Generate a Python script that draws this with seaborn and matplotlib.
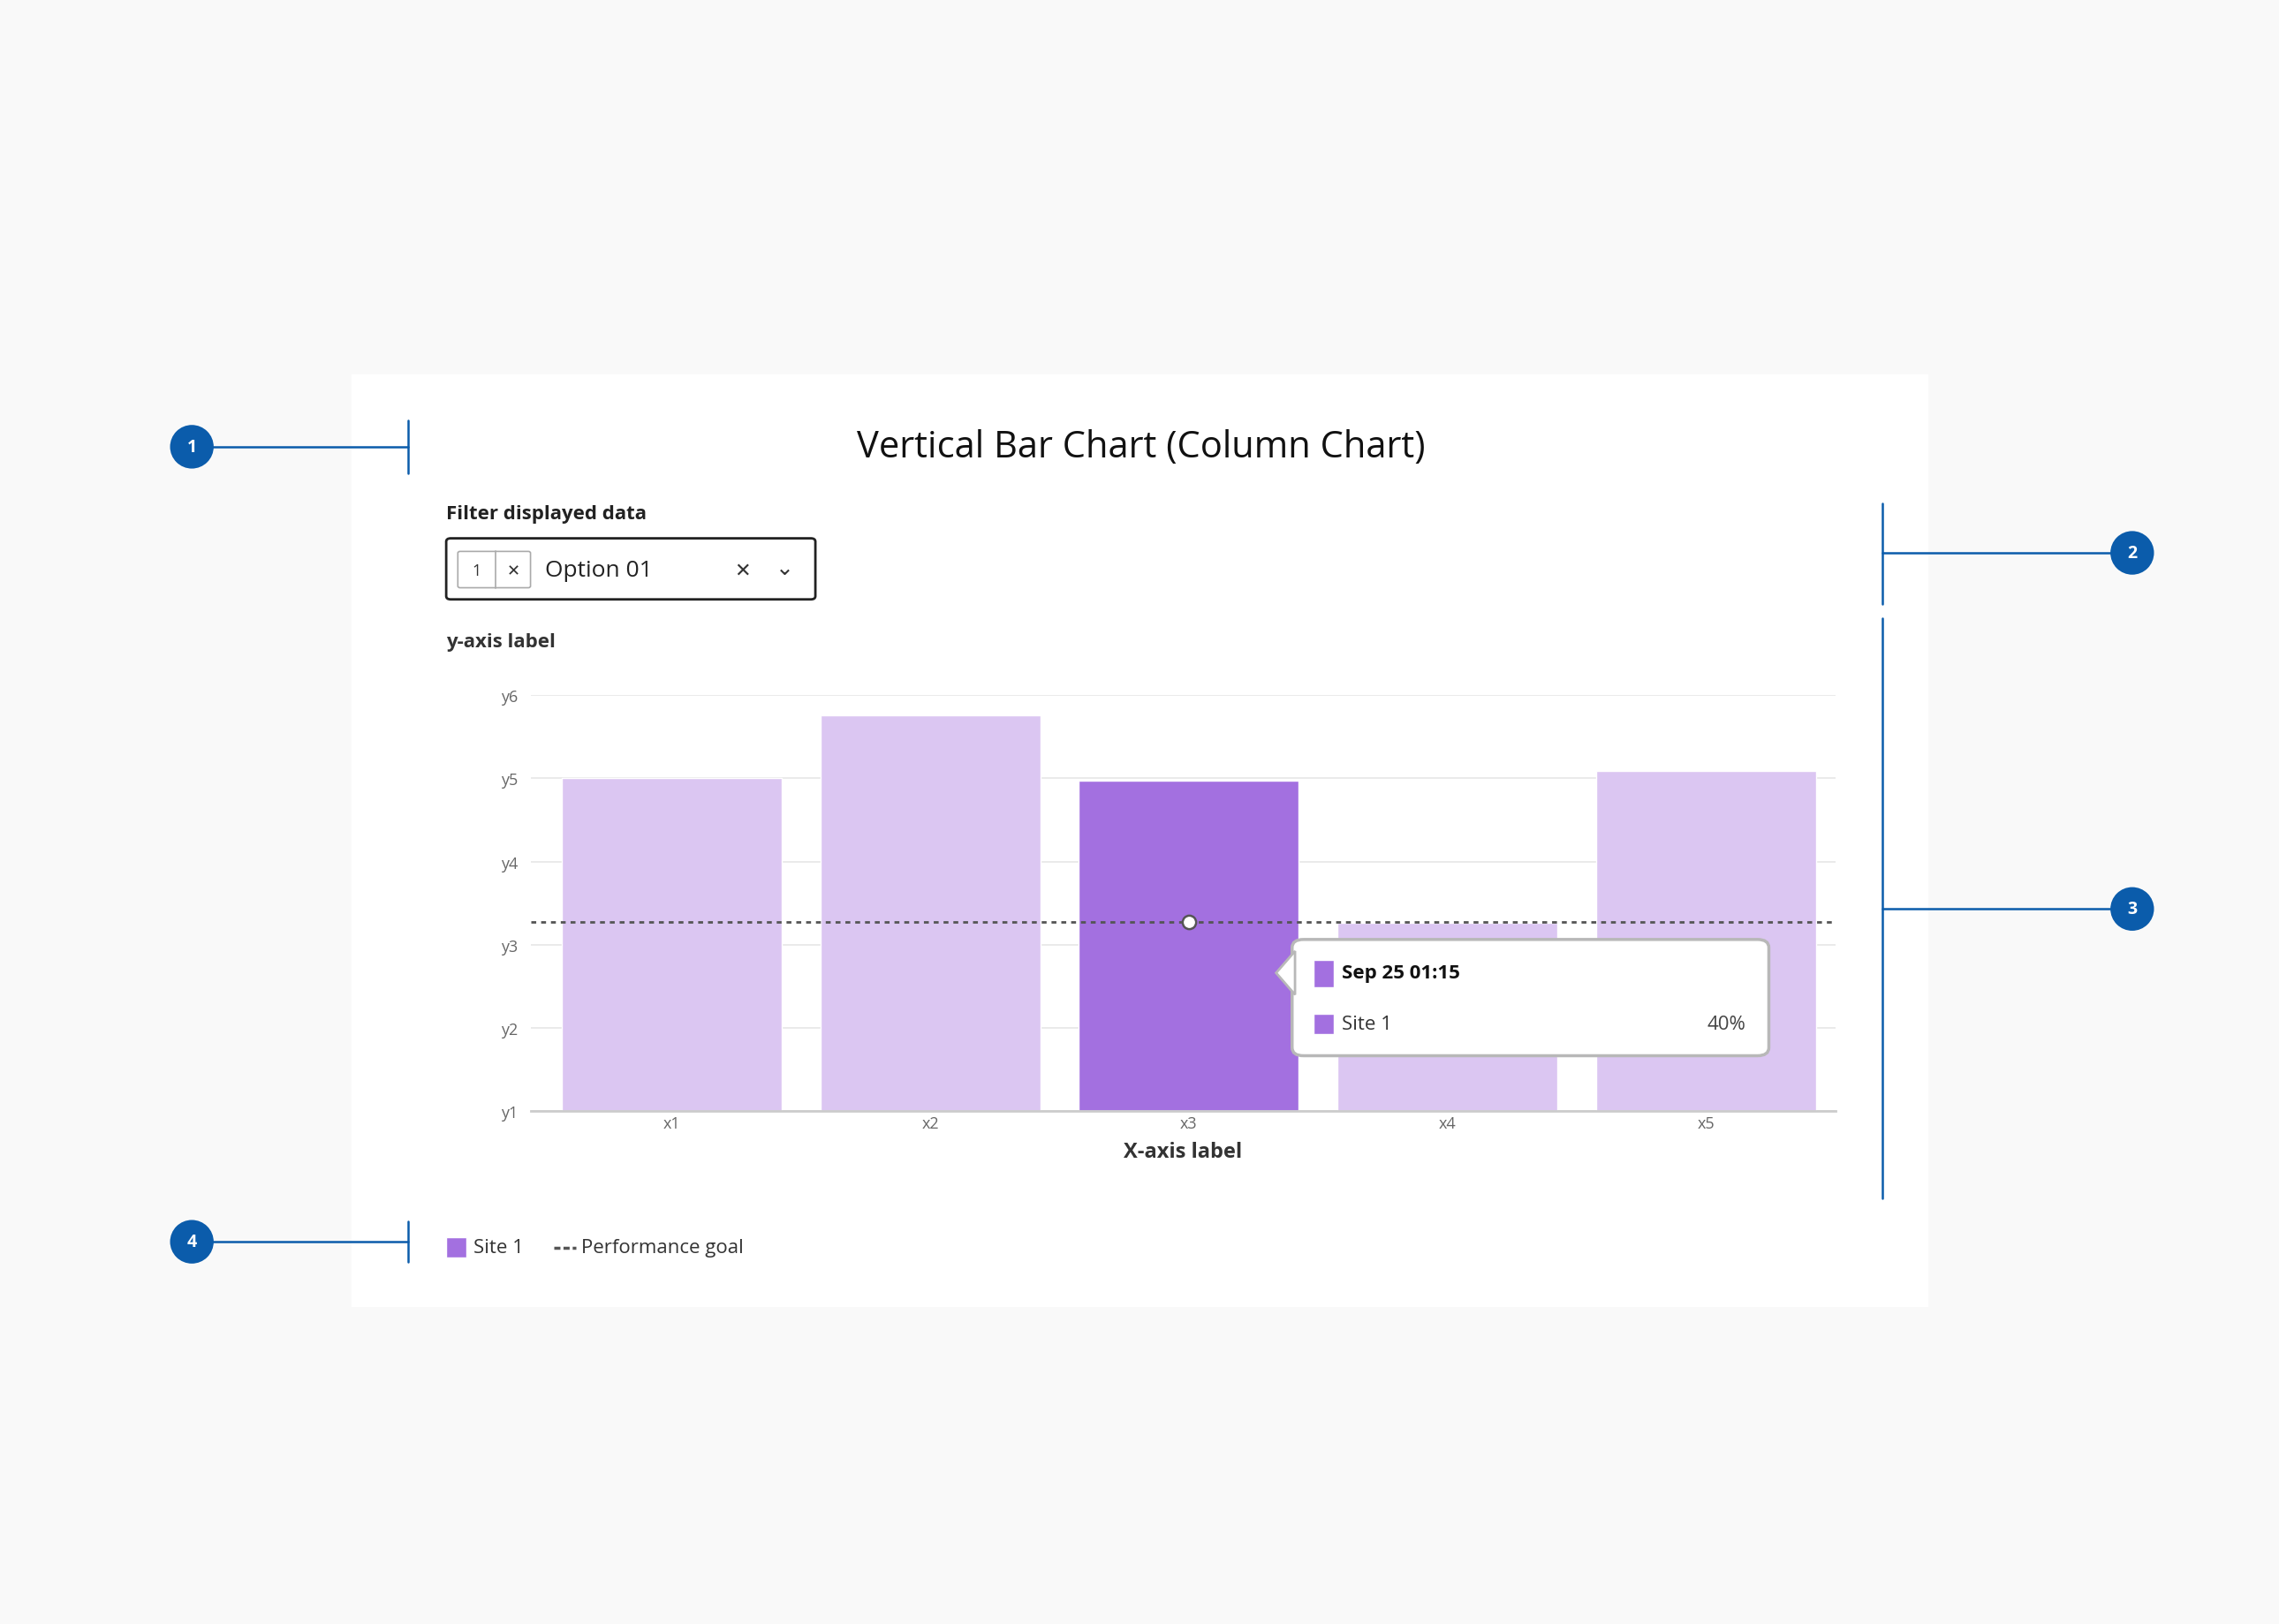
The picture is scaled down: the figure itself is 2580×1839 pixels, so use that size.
import matplotlib
matplotlib.use("Agg")
import matplotlib.pyplot as plt
import seaborn as sns
import pandas as pd
from matplotlib.patches import FancyBboxPatch, Rectangle, Ellipse, Polygon

sns.set_theme(style="white")
plt.rcParams['font.family'] = ['Open Sans', 'DejaVu Sans']

categories = ["x1", "x2", "x3", "x4", "x5"]
values = [4.0, 4.76, 3.97, 2.26, 4.09]
goal = 2.27
ytick_labels = ["y1", "y2", "y3", "y4", "y5", "y6"]
highlight = "x3"

LIGHT = "#dbc6f2"
DARK = "#a370e0"
BLUE = "#0b5cab"
W, H = 1568, 1118  # layout units of the reference


def fx(x):
    return x / W


def fy(y):
    return 1 - y / H


fig = plt.figure(figsize=(25.8, 18.4), dpi=100)
fig.patch.set_facecolor("#f9f9f9")
fig.patches.append(Rectangle((fx(242), fy(900)), fx(1327) - fx(242), fy(258) - fy(900),
                             transform=fig.transFigure, facecolor="white", edgecolor="none", zorder=-5))

fig.text(fx(785), fy(308), "Vertical Bar Chart (Column Chart)", ha="center", va="center", fontsize=30, color="#111")
fig.text(fx(307), fy(354), "Filter displayed data", ha="left", va="center", fontsize=16, fontweight="bold", color="#222")

# filter box
fig.patches.append(FancyBboxPatch((fx(307), fy(413)), fx(561) - fx(307), fy(371) - fy(413),
                                  boxstyle="round,pad=0,rounding_size=0.002", transform=fig.transFigure,
                                  facecolor="white", edgecolor="#222", lw=2))
fig.patches.append(FancyBboxPatch((fx(315), fy(405)), fx(365) - fx(315), fy(380) - fy(405),
                                  boxstyle="round,pad=0,rounding_size=0.001", transform=fig.transFigure,
                                  facecolor="white", edgecolor="#aaa", lw=1.2))
fig.lines.append(plt.Line2D([fx(341), fx(341)], [fy(380), fy(405)], transform=fig.transFigure, color="#aaa", lw=1.2))
fig.text(fx(328), fy(393), "1", ha="center", va="center", fontsize=13, color="#333")
fig.text(fx(353), fy(393), "✕", ha="center", va="center", fontsize=13, color="#333", family="DejaVu Sans")
fig.text(fx(375), fy(393), "Option 01", ha="left", va="center", fontsize=19, color="#222")
fig.text(fx(511), fy(393), "✕", ha="center", va="center", fontsize=16, color="#333", family="DejaVu Sans")
fig.text(fx(540), fy(391), "⌄", ha="center", va="center", fontsize=18, color="#333", family="DejaVu Sans")

fig.text(fx(307), fy(442), "y-axis label", ha="left", va="center", fontsize=16, fontweight="bold", color="#333")

ax = fig.add_axes([fx(365), fy(765), fx(1263) - fx(365), fy(479) - fy(765)])
df = pd.DataFrame({"cat": categories, "val": values})
palette = {c: (DARK if c == highlight else LIGHT) for c in categories}
sns.barplot(data=df, x="cat", y="val", hue="cat", palette=palette, width=0.85, ax=ax, legend=False,
            saturation=1, zorder=2)
ax.axhline(goal, color="#555", ls=(0, (2, 2)), lw=2, zorder=3)
hi = categories.index(highlight)
ax.plot([hi], [goal], "o", ms=11, mfc="white", mec="#555", mew=1.8, zorder=4)
ax.set_xlim(-0.545, 4.5)
ax.set_ylim(0, 5)
ax.set_yticks(range(6))
ax.set_yticklabels(ytick_labels)
ax.yaxis.grid(True, color="#e6e6e6", lw=1.2, zorder=0)
ax.set_axisbelow(True)
for s in ["top", "right", "left"]:
    ax.spines[s].set_visible(False)
ax.spines["bottom"].set_color("#ccc")
ax.spines["bottom"].set_linewidth(2)
ax.tick_params(axis="both", length=0, labelsize=13, colors="#666")
ax.tick_params(axis="y", pad=10)
ax.set_xlabel("X-axis label", fontsize=17, fontweight="bold", color="#333", labelpad=8)
ax.set_ylabel("")
ax.set_facecolor("none")

# tooltip
fig.patches.append(FancyBboxPatch((fx(889), fy(727)), fx(1217) - fx(889), fy(647) - fy(727),
                                  boxstyle="round,pad=0,rounding_size=0.005", transform=fig.transFigure,
                                  facecolor="white", edgecolor="#b8b8b8", lw=2.5, zorder=10))
fig.patches.append(Polygon([(fx(891), fy(655)), (fx(878), fy(670)), (fx(891), fy(685))], closed=True,
                           transform=fig.transFigure, facecolor="white", edgecolor="#b8b8b8", lw=2, zorder=11))
fig.patches.append(Rectangle((fx(904), fy(680)), fx(14), fy(0) - fy(19), transform=fig.transFigure,
                             facecolor=DARK, zorder=11))
fig.patches.append(Rectangle((fx(904), fy(712)), fx(14), fy(0) - fy(14), transform=fig.transFigure,
                             facecolor=DARK, zorder=11))
fig.text(fx(923), fy(670), "Sep 25 01:15", ha="left", va="center", fontsize=16, fontweight="bold", color="#111", zorder=12)
fig.text(fx(923), fy(705), "Site 1", ha="left", va="center", fontsize=16, color="#333", zorder=12)
fig.text(fx(1201), fy(705), "40%", ha="right", va="center", fontsize=16, color="#444", zorder=12)

# legend
fig.patches.append(Rectangle((fx(307), fy(866)), fx(14), fy(0) - fy(14), transform=fig.transFigure, facecolor=DARK))
fig.text(fx(326), fy(859), "Site 1", ha="left", va="center", fontsize=16, color="#333")
fig.lines.append(plt.Line2D([fx(381), fx(396)], [fy(859), fy(859)], transform=fig.transFigure,
                            color="#555", lw=2.5, ls=(0, (2, 1))))
fig.text(fx(400), fy(859), "Performance goal", ha="left", va="center", fontsize=16, color="#333")


# callouts
def marker(x, y, n):
    fig.patches.append(Ellipse((fx(x), fy(y)), 30 / W, 30 / H, transform=fig.transFigure,
                               facecolor=BLUE, edgecolor="none", zorder=5))
    fig.text(fx(x), fy(y), str(n), ha="center", va="center", fontsize=14, fontweight="bold", color="white", zorder=6)


def line(x0, y0, x1, y1):
    fig.lines.append(plt.Line2D([fx(x0), fx(x1)], [fy(y0), fy(y1)], transform=fig.transFigure, color=BLUE, lw=1.8))


line(132, 308, 281, 308); line(281, 290, 281, 326); marker(132, 308, 1)
line(1295, 381, 1467, 381); line(1295, 347, 1295, 416); marker(1467, 381, 2)
line(1295, 626, 1467, 626); line(1295, 426, 1295, 825); marker(1467, 626, 3)
line(132, 855, 281, 855); line(281, 841, 281, 869); marker(132, 855, 4)

fig.savefig("out.png", dpi=100)
